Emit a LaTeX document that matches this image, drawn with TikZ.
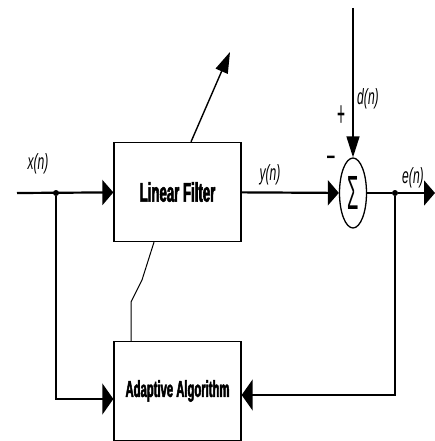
\documentclass[tikz,border=0pt]{standalone}
\usepackage{fontspec}
\newfontfamily\blockfont{Liberation Sans}[FakeStretch=0.49,FakeBold=2]
\newfontfamily\sigfont{Liberation Sans}[FakeStretch=0.55]
\newfontfamily\sumfont{Liberation Sans}[FakeStretch=0.38]
\usetikzlibrary{arrows.meta,positioning,shapes.geometric}

\begin{document}
\begin{tikzpicture}[
  x=1pt,y=-1pt,>={Triangle[length=11pt,width=25pt]},
  tall/.style={-{Triangle[length=11pt,width=31pt]}},
  vert/.style={-{Triangle[length=21pt,width=13pt]}},
  box/.style={draw,line width=1.3pt,minimum width=127pt,minimum height=99pt,inner sep=0pt,align=center},
  sig/.style={line width=2.2pt},
  fb/.style={line width=1.4pt},
  lbl/.style={font=\sigfont\itshape\fontsize{22}{22}\selectfont,inner sep=0pt},
  sgn/.style={font=\sumfont\fontsize{36}{36}\selectfont,inner sep=0pt},
  dot/.style={circle,fill,inner sep=0pt,minimum size=6pt}
]
  \useasboundingbox (0,0) rectangle (435,441);
  \node[box,font=\blockfont\bfseries\fontsize{27}{27}\selectfont] (filter) at (177.5,192) {Linear Filter};
  \node[box,font=\blockfont\bfseries\fontsize{23}{23}\selectfont] (adapt) at (177.5,391) {Adaptive Algorithm};
  \node[ellipse,draw,line width=1.3pt,minimum width=27pt,minimum height=70pt,inner sep=0pt,font=\sumfont\fontsize{48}{48}\selectfont] (sum) at (353,193) {Σ};
  \coordinate (xin) at (17,193);
  \node[dot] (xdot) at (56,193) {};
  \node[dot] (edot) at (395,193) {};
  \coordinate (eout) at (435,193);
  \coordinate (dtop) at (353,8);
  \coordinate (tune) at (230,52);
  \coordinate (bend1) at (131,302);
  \coordinate (bend2) at (142,280);
  \node[lbl] (xlbl) at (38,164) {x(n)};
  \node[lbl] (ylbl) at (270,175) {y(n)};
  \node[lbl] (elbl) at (413,178) {e(n)};
  \node[lbl] (dlbl) at (368,99) {d(n)};
  \node[sgn] (plus) at (341,116) {+};
  \node[sgn] (minus) at (331,161) {–};
  \draw[sig,->] (xin) -- (filter);
  \draw[sig,->] (filter) -- (sum);
  \draw[fb] (sum) -- (edot);
  \draw[sig,->] (edot) -- (eout);
  \draw[fb,vert] (dtop) -- (sum.north);
  \draw[fb,tall] (xdot) |- ([yshift=-8pt]adapt.west);
  \draw[fb,tall] (edot) |- ([yshift=-4pt]adapt.east);
  \draw[fb,vert] ([xshift=13.5pt]filter.north) -- (tune);
  \draw[line width=1pt] ([xshift=-46.5pt]adapt.north) -- (bend1) -- (bend2) -- ([xshift=-23.5pt]filter.south);
\end{tikzpicture}
\end{document}
